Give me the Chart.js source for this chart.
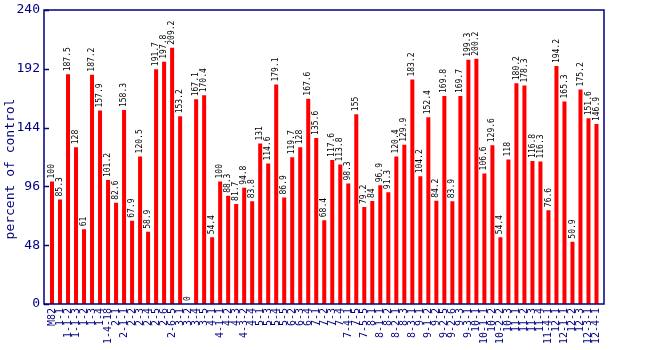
<!DOCTYPE html>
<html>
<head>
<meta charset="utf-8">
<script src="https://cdn.jsdelivr.net/npm/chart.js@4/dist/chart.umd.min.js"></script>
<style>
  html, body { margin: 0; padding: 0; background: #fff; }
  #wrap { width: 650px; height: 350px; position: relative; }
</style>
</head>
<body>
<div id="wrap"><canvas id="barChart"></canvas></div>
<script>
// categories (lines) and values
const lineas = ['M82', '1-1', '1-1-2', '1-1-3', '1-2', '1-3', '1-4', '1-4-18', '2-1', '2-1-1',
    '2-2', '2-3', '2-4', '2-5', '2-6', '2-6-5', '3-1', '3-2', '3-4', '3-5',
    '4-1', '4-1-1', '4-2', '4-3', '4-3-2', '4-4', '5-1', '5-3', '5-4', '5-5',
    '6-2', '6-3', '6-4', '7-1', '7-2', '7-3', '7-4', '7-4-1', '7-5', '7-5-5',
    '8-1', '8-1-1', '8-2', '8-2-1', '8-3', '8-3-1', '9-1', '9-1-2', '9-2', '9-2-5',
    '9-2-6', '9-3', '9-3-1', '10-1', '10-1-1', '10-2', '10-2-2', '10-3', '11-1', '11-2',
    '11-3', '11-4', '11-4-1', '12-1', '12-1-1', '12-2', '12-3', '12-3-1', '12-4-1'];

const valores = [100, 85.3, 187.5, 128, 61, 187.2, 157.9, 101.2, 82.6, 158.3,
    67.9, 120.5, 58.9, 191.7, 197.8, 209.2, 153.2, 0, 167.1, 170.4,
    54.4, 100, 88.3, 81.7, 94.8, 83.8, 131, 114.6, 179.1, 86.9,
    119.7, 128, 167.6, 135.6, 68.4, 117.6, 113.8, 98.3, 155, 79.2,
    84, 96.9, 91.3, 120.4, 129.9, 183.2, 104.2, 152.4, 84.2, 169.8,
    83.9, 169.7, 199.3, 200.2, 106.6, 129.6, 54.4, 118, 180.2, 178.3,
    116.8, 116.3, 76.6, 194.2, 165.3, 50.9, 175.2, 151.6, 146.9];

const yTicks = [0, 48, 96, 144, 192, 240];

const azul = '#000080';
const rojo = '#ff0000';
const mono = "'DejaVu Sans Mono', monospace";

// frame, inward y ticks, y title and value labels
const extras = {
    id: 'extras',
    afterDatasetsDraw(chart) {
        const { ctx, chartArea: a, scales: { y } } = chart;
        const fl = a.left - 4, fr = a.right + 3.5;
        ctx.save();
        ctx.strokeStyle = azul;
        ctx.lineWidth = 1.5;
        ctx.strokeRect(fl, a.top, fr - fl, a.bottom - a.top);
        yTicks.forEach(v => {
            const py = Math.round(y.getPixelForValue(v)) + 0.5;
            ctx.beginPath();
            ctx.moveTo(fl, py);
            ctx.lineTo(fl + 5, py);
            ctx.stroke();
        });

        // y title
        ctx.fillStyle = azul;
        ctx.font = '13px ' + mono;
        ctx.textAlign = 'center';
        ctx.textBaseline = 'middle';
        ctx.save();
        ctx.translate(11, 169);
        ctx.rotate(-Math.PI / 2);
        ctx.fillText('percent of control', 0, 0);
        ctx.restore();

        ctx.fillStyle = '#000';
        ctx.font = '8px ' + mono;
        ctx.textAlign = 'left';
        chart.getDatasetMeta(0).data.forEach((bar, i) => {
            ctx.save();
            ctx.translate(bar.x, bar.y - 3);
            ctx.rotate(-Math.PI / 2);
            ctx.fillText(String(valores[i]), 0, 0);
            ctx.restore();
        });
        ctx.restore();
    }
};

const sinPadding = (scale) => {
    scale.paddingTop = 0;
    scale.paddingBottom = 0;
    scale.paddingLeft = 0;
    scale.paddingRight = 0;
};

new Chart(document.getElementById('barChart'), {
    type: 'bar',
    data: {
        labels: lineas,
        datasets: [{
            data: valores,
            backgroundColor: rojo,
            borderWidth: 0,
            barPercentage: 0.5,
            categoryPercentage: 1.0
        }]
    },
    options: {
        responsive: true,
        maintainAspectRatio: false,
        animation: false,
        layout: { padding: { top: 10, right: 49.5, left: 0, bottom: 0 } },
        plugins: {
            legend: { display: false },
            tooltip: { enabled: false }
        },
        scales: {
            x: {
                grid: { display: false, drawTicks: false },
                border: { display: false },
                ticks: {
                    color: azul,
                    font: { family: mono, size: 10 },
                    autoSkip: false,
                    minRotation: 90,
                    maxRotation: 90,
                    padding: 4
                },
                afterFit(scale) { scale.height = 46; sinPadding(scale); }
            },
            y: {
                min: 0,
                max: 240,
                afterBuildTicks(scale) { scale.ticks = yTicks.map(v => ({ value: v })); },
                grid: { display: false, drawTicks: false },
                border: { display: false },
                ticks: {
                    color: azul,
                    font: { family: mono, size: 13 },
                    padding: 8
                },
                afterFit(scale) { scale.width = 48; sinPadding(scale); }
            }
        }
    },
    plugins: [extras]
});
</script>
</body>
</html>
